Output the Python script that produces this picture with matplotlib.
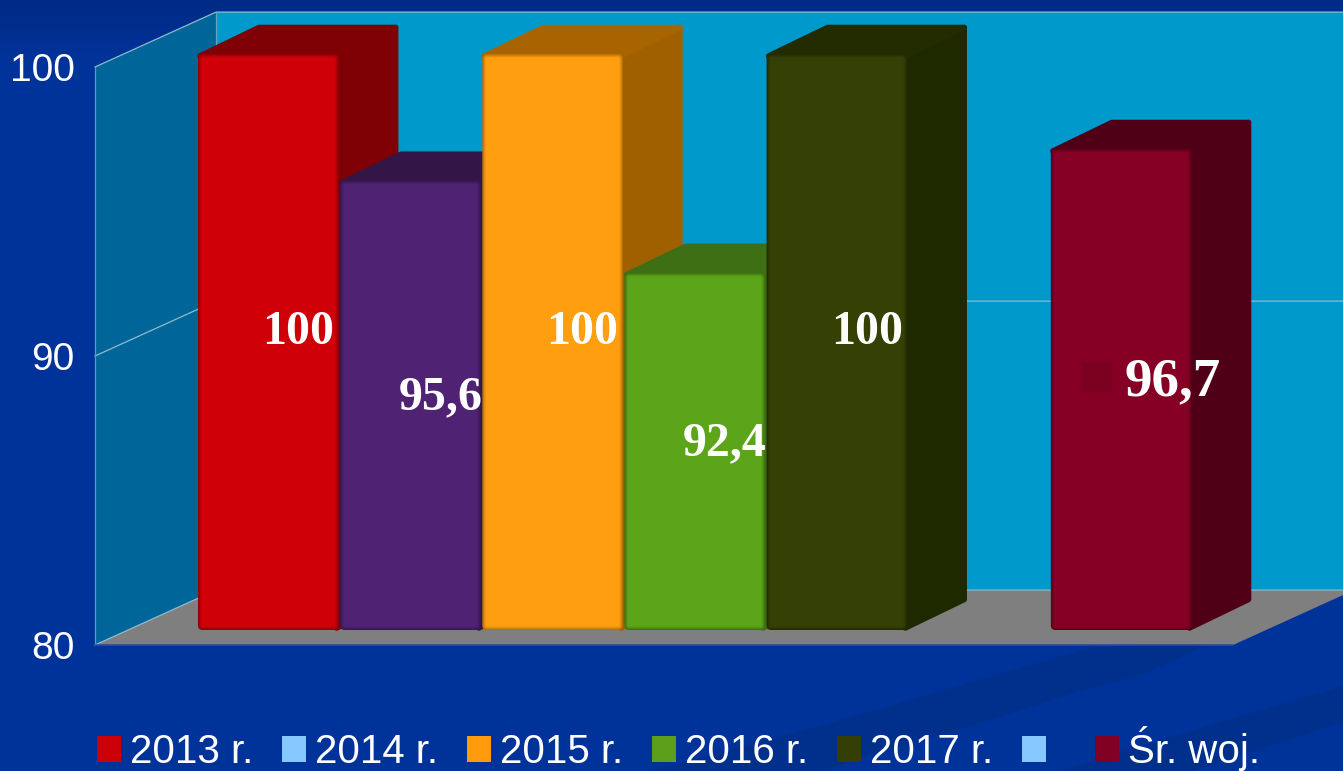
import matplotlib
matplotlib.use("Agg")
import matplotlib.pyplot as plt
import numpy as np
from matplotlib.colors import LinearSegmentedColormap, to_hex, to_rgb
from matplotlib.patches import FancyBboxPatch, Polygon, Patch

# ---- data ----
bar_slots = [0, 1, 2, 3, 4, 6]
bar_values = [100, 95.6, 100, 92.4, 100, 96.7]
bar_labels = ["100", "95,6", "100", "92,4", "100", "96,7"]
label_shift_x = [29, 29, 29, 29, 29, 51]
label_shift_y = [10, 8, 10, 8, 10, 7]
label_sizes = [34.5, 34.5, 34.5, 34.5, 34.5, 39.5]
front_colors = ["#CF0008", "#4F2273", "#FF9E0F", "#5CA51B", "#354005", "#850024"]
edge_colors = ["#8E0006", "#38184F", "#B87008", "#3F7212", "#232B03", "#5C0019"]
top_colors = ["#7F0005", "#341547", "#A86400", "#3F6F15", "#222C00", "#500016"]
side_colors = ["#7F0005", "#341547", "#A06000", "#3F6F15", "#1E2900", "#500016"]
legend_labels = ["2013 r.", "2014 r.", "2015 r.", "2016 r.", "2017 r.", " ", "Śr. woj."]
legend_colors = ["#CC0007", "#85C8FF", "#FF9A0D", "#5A9E1A", "#333F05", "#85C8FF", "#7F0022"]
y_ticks = [80, 90, 100]

W, H = 1343, 771
fig = plt.figure(figsize=(W / 100, H / 100), dpi=100)
fig.patch.set_facecolor("#003399")


def axes_px(left, right, top, bottom, **kw):
    return fig.add_axes([left / W, 1 - bottom / H, (right - left) / W, (bottom - top) / H], **kw)


# ---- background ----
bg = axes_px(0, W, 0, H, zorder=0)
top_fade = LinearSegmentedColormap.from_list("f", ["#002A85", "#003399"])
bg.imshow(np.linspace(0, 1, 64)[:, None], extent=(0, W, 60, 0), aspect="auto", cmap=top_fade, zorder=1)
bg.set_xlim(0, W)
bg.set_ylim(H, 0)
bg.axis("off")
band = "#00308C"
bg.add_patch(Polygon([(650, 771), (779, 737), (900, 703), (960, 685), (1093, 647), (1203, 646),
                      (1147, 673), (1077, 692), (1000, 717), (900, 747), (833, 767), (820, 771)],
                     fc=band, ec="none", zorder=2))
bg.add_patch(Polygon([(1060, 771), (1200, 728), (1343, 686), (1343, 722), (1193, 771)],
                     fc=band, ec="none", zorder=2))

# ---- walls and floor, on the value axis ----
WALL_L, WALL_R, WALL_T, WALL_B = 95, 1343, 67, 645
wall = axes_px(WALL_L, WALL_R, WALL_T, WALL_B, zorder=1)
wall.set_facecolor("none")
wall.set_xlim(0, WALL_R - WALL_L)
wall.set_ylim(80, 100)
for s in wall.spines.values():
    s.set_visible(False)
wall.set_xticks([])
wall.set_yticks(y_ticks)
wall.tick_params(axis="y", length=0, pad=14.5, labelcolor="white")
for t in wall.get_yticklabels():
    t.set_fontfamily("Liberation Sans")
    t.set_fontsize(28)

wdx, wdy = 121, 1.9
far = 1400
line_c = "#8FBBCB"
wall.add_patch(Polygon([(wdx, 80 + wdy), (far, 80 + wdy), (far, 100 + wdy), (wdx, 100 + wdy)],
                       fc="#0099CC", ec="none", clip_on=False, zorder=1))
wall.add_patch(Polygon([(0, 80), (wdx, 80 + wdy), (wdx, 100 + wdy), (0, 100)],
                       fc="#006699", ec="none", clip_on=False, zorder=1))
wall.add_patch(Polygon([(0, 80), (1138, 80), (1138 + wdx, 80 + wdy), (wdx, 80 + wdy)],
                       fc="#7F7F7F", ec="none", clip_on=False, zorder=2))
for v in y_ticks:
    wall.plot([0, wdx, far], [v, v + wdy, v + wdy], color=line_c, lw=0.9, clip_on=False, zorder=3)
wall.plot([0, 0], [80, 100], color="#5F9DB3", lw=0.9, clip_on=False, zorder=3)
wall.plot([wdx, wdx], [80 + wdy, 100 + wdy], color="#5FA8C2", lw=0.9, clip_on=False, zorder=3)
wall.plot([0, 1138], [80, 80], color="#27508F", lw=1.2, clip_on=False, zorder=3)

# ---- bars ----
ax = axes_px(198, 1193, 54, 630, zorder=2)
ax.set_facecolor("none")
ax.set_xlim(-0.5, 6.5)
ax.set_ylim(80, 100)
ax.axis("off")

px_x = 995 / 7
px_y = 576 / 20
dx, dy = 59 / px_x, 28.5 / px_y
aspect = px_x / px_y
half = 0.5
ix2, iy2 = 2 / px_x, 2 / px_y


def round_box(x0, x1, y0, y1, inset, fc, z):
    ix, iy = inset / px_x, inset / px_y
    r = max(4.5 - inset, 1.5) / px_x
    ax.add_patch(FancyBboxPatch((x0 + ix, y0 + iy), x1 - x0 - 2 * ix, y1 - y0 - 2 * iy,
                                boxstyle=f"round,pad=0,rounding_size={r}", mutation_aspect=aspect,
                                fc=fc, ec="none", clip_on=False, zorder=z))


z = 2
for slot, v, fc, ec, tc, sc in zip(bar_slots, bar_values, front_colors, edge_colors, top_colors, side_colors):
    x0, x1 = slot - half, slot + half - 1.5 / px_x
    xn0, xn1 = x0 + ix2, x1 - ix2
    yn0, yn1 = 80 + iy2, v - iy2
    ax.add_patch(Polygon([(xn1, yn0), (xn1 + dx, yn0 + dy), (xn1 + dx, yn1 + dy), (xn1, yn1)],
                         fc=sc, ec=sc, lw=4, joinstyle="round", clip_on=False, zorder=z))
    ax.add_patch(Polygon([(xn0, yn1), (xn0 + dx, yn1 + dy), (xn1 + dx, yn1 + dy), (xn1, yn1)],
                         fc=tc, ec=tc, lw=4, joinstyle="round", clip_on=False, zorder=z))
    e, f = np.array(to_rgb(ec)), np.array(to_rgb(fc))
    for k, frac in enumerate([0.0, 0.3, 0.6, 0.85, 1.0]):
        round_box(x0, x1, 80, v, k * 0.9, to_hex(e + (f - e) * frac), z + 0.1 * (k + 1))
    z += 1

for slot, v, lab, sx, sy, fs in zip(bar_slots, bar_values, bar_labels, label_shift_x, label_shift_y, label_sizes):
    ax.annotate(lab, (slot, 80 + (v - 80) / 2), xytext=(sx, sy), textcoords="offset pixels",
                ha="center", va="center", color="white", fontsize=fs, fontweight="bold",
                fontfamily="Liberation Serif", zorder=50, annotation_clip=False)

# the small key square that sits beside the last data label
ax.plot([bar_slots[-1] - 0.176], [80 + (bar_values[-1] - 80) / 2 + 0.42], marker="s", ms=21.5, mew=0,
        color="#7C0020", clip_on=False, zorder=49)

# ---- legend ----
handles = [Patch(fc=c, ec="none") for c in legend_colors]
fig.legend(handles, legend_labels, ncol=7, loc="lower left",
           bbox_to_anchor=(97 / W, 0.0), frameon=False, borderpad=0, borderaxespad=0,
           prop={"family": "Liberation Sans", "size": 29}, labelcolor="white",
           handlelength=0.6, handleheight=0.6, handletextpad=0.22, columnspacing=0.715)

fig.savefig("out.png", dpi=100, facecolor=fig.get_facecolor())
